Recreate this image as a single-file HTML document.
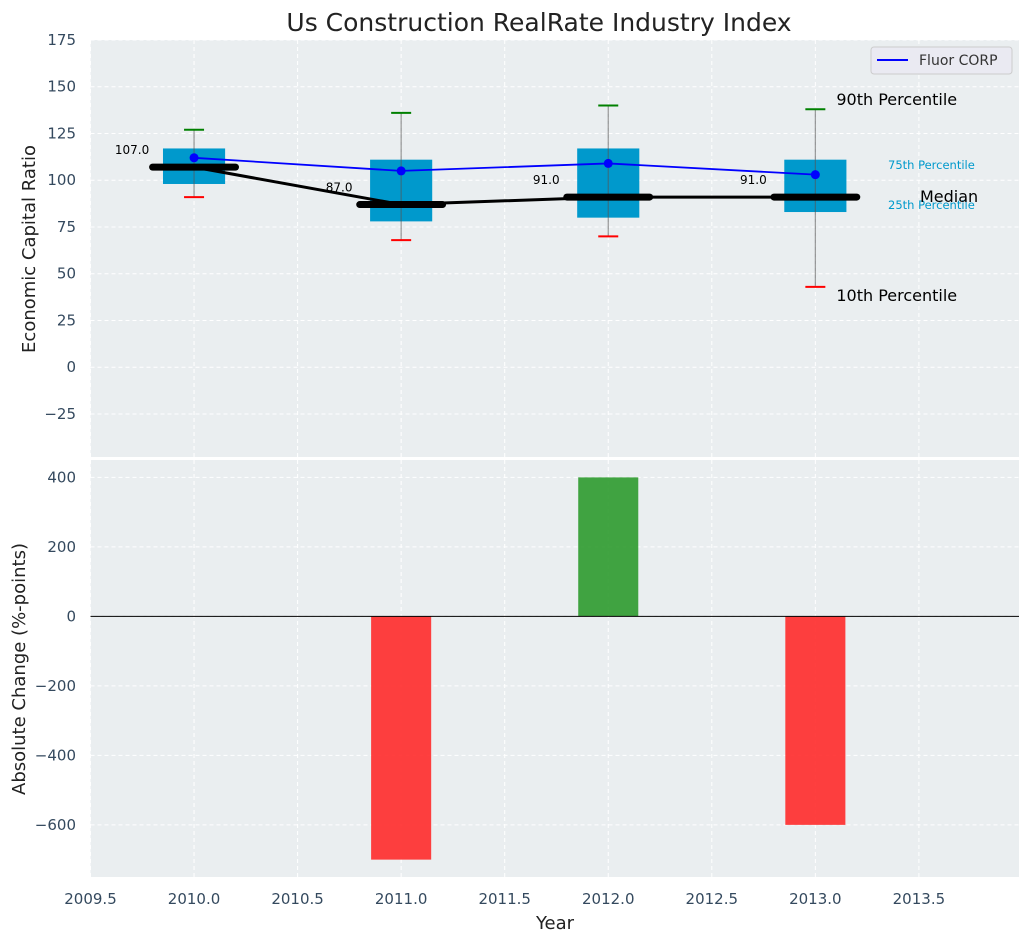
<!DOCTYPE html>
<html><head><meta charset="utf-8"><style>
body{margin:0;background:#fff;}
svg text{font-family:"DejaVu Sans","Liberation Sans",sans-serif;}
</style></head><body>
<svg id="c" width="1029" height="942" xmlns="http://www.w3.org/2000/svg"></svg>
<script>
const years=[2010,2011,2012,2013];
const p10=[91,68,70,43];
const q1=[98,78,80,83];
const medians=[107,87,91,91];
const q3=[117,111,117,111];
const p90=[127,136,140,138];
const fluor=[112,105,109,103];
const changeYears=[2011,2012,2013];
const changes=[-700,400,-600];
const xTicks=[2009.5,2010,2010.5,2011,2011.5,2012,2012.5,2013,2013.5];
const yTopTicks=[-25,0,25,50,75,100,125,150,175];
const yBotTicks=[-600,-400,-200,0,200,400];

const NS="http://www.w3.org/2000/svg";
const svg=document.getElementById('c');
const L=90.5,R=1019;
const X=v=>L+(v-2009.5)*207.1;
const T0=40,T1=457,B0=460,B1=877;
const YT=v=>T0+(175-v)*(T1-T0)/(175+48);
const YB=v=>B0+(450-v)*(B1-B0)/1200;
function el(tag,attrs,name,parent){const e=document.createElementNS(NS,tag);for(const k in attrs)e.setAttribute(k,attrs[k]);


(parent||svg).appendChild(e);return e;}
function txt(s,attrs,name){const e=el('text',attrs,name);e.textContent=s;return e;}

el('rect',{x:L,y:T0,width:R-L,height:T1-T0,fill:'#eaeef0'},'top-plot-area');
el('rect',{x:L,y:B0,width:R-L,height:B1-B0,fill:'#eaeef0'},'bottom-plot-area');
xTicks.forEach(t=>{
 el('line',{x1:X(t),x2:X(t),y1:T0,y2:T1,stroke:'#fff','stroke-dasharray':'4,3','stroke-width':1},'top-x-grid');
 el('line',{x1:X(t),x2:X(t),y1:B0,y2:B1,stroke:'#fff','stroke-dasharray':'4,3','stroke-width':1},'bottom-x-grid');
 txt(t.toFixed(1),{x:X(t),y:B1+27,'text-anchor':'middle','font-size':15,fill:'#34495e'},'x-tick-label');
});
yTopTicks.forEach(t=>{
 el('line',{x1:L,x2:R,y1:YT(t),y2:YT(t),stroke:'#fff','stroke-dasharray':'4,3','stroke-width':1},'top-y-grid');
 txt(t<0?'\u2212'+(-t):String(t),{x:76,y:YT(t)+5,'text-anchor':'end','font-size':15,fill:'#34495e'},'top-y-tick-label');
});
yBotTicks.forEach(t=>{
 el('line',{x1:L,x2:R,y1:YB(t),y2:YB(t),stroke:'#fff','stroke-dasharray':'4,3','stroke-width':1},'bottom-y-grid');
 txt(t<0?'\u2212'+(-t):String(t),{x:76,y:YB(t)+5,'text-anchor':'end','font-size':15,fill:'#34495e'},'bottom-y-tick-label');
});

years.forEach((y,i)=>{
 const x=X(y),hw=(X(0.15)-X(0));
 el('rect',{x:x-hw,y:YT(q3[i]),width:2*hw,height:YT(q1[i])-YT(q3[i]),fill:'#0099cc'},'iqr-box');
 el('line',{x1:x,x2:x,y1:YT(p90[i]),y2:YT(p10[i]),stroke:'#555','stroke-opacity':0.6,'stroke-width':1.2},'whisker');
 el('line',{x1:x-10,x2:x+10,y1:YT(p90[i]),y2:YT(p90[i]),stroke:'green','stroke-width':2},'p90-cap');
 el('line',{x1:x-10,x2:x+10,y1:YT(p10[i]),y2:YT(p10[i]),stroke:'red','stroke-width':2},'p10-cap');
});
el('polyline',{points:years.map((y,i)=>X(y)+','+YT(medians[i])).join(' '),fill:'none',stroke:'#000','stroke-width':3},'median-trend-line');
years.forEach((y,i)=>{
 const hw=X(0.2)-X(0);
 el('line',{x1:X(y)-hw,x2:X(y)+hw,y1:YT(medians[i]),y2:YT(medians[i]),stroke:'#000','stroke-width':7,'stroke-linecap':'round'},'median-bar');
 txt(medians[i].toFixed(1),{x:X(y)-62,y:YT(medians[i])-13,'text-anchor':'middle','font-size':12,fill:'#000'},'median-value-label');
});
el('polyline',{points:years.map((y,i)=>X(y)+','+YT(fluor[i])).join(' '),fill:'none',stroke:'blue','stroke-width':1.8},'fluor-line');
years.forEach((y,i)=>el('circle',{cx:X(y),cy:YT(fluor[i]),r:4.5,fill:'blue'},'fluor-point'));

const lx=X(2013)+21;
txt('90th Percentile',{x:lx,y:YT(p90[3])-4,'font-size':16,fill:'#000'},'p90-annotation');
txt('10th Percentile',{x:lx,y:YT(p10[3])+14,'font-size':16,fill:'#000'},'p10-annotation');
txt('75th Percentile',{x:888,y:169,'font-size':11.5,fill:'#0099cc'},'p75-annotation');
txt('25th Percentile',{x:888,y:209,'font-size':11.5,fill:'#0099cc'},'p25-annotation');
txt('Median',{x:920,y:202,'font-size':16,fill:'#000'},'median-annotation');

el('rect',{x:871,y:47,width:141,height:27,rx:3,fill:'#eaeaf2',stroke:'#ccc'},'legend-box');
el('line',{x1:877,x2:908,y1:60,y2:60,stroke:'blue','stroke-width':2},'legend-line');
txt('Fluor CORP',{x:919,y:65,'font-size':14,fill:'#333'},'legend-label');

changeYears.forEach((y,i)=>{
 const v=changes[i],hw=X(0.145)-X(0);
 const y0=YB(Math.max(0,v)),y1=YB(Math.min(0,v));
 el('rect',{x:X(y)-hw,y:y0,width:2*hw,height:y1-y0,fill:v>=0?'#2e9a2e':'#ff2a2a','fill-opacity':0.9},'change-bar');
});
el('line',{x1:L,x2:R,y1:YB(0),y2:YB(0),stroke:'#000','stroke-width':1},'zero-line');

txt('Us Construction RealRate Industry Index',{x:539,y:31,'text-anchor':'middle','font-size':25,fill:'#222'},'chart-title');
txt('Year',{x:555,y:929,'text-anchor':'middle','font-size':18,fill:'#222'},'x-axis-title');
txt('Economic Capital Ratio',{x:0,y:0,'text-anchor':'middle','font-size':18,fill:'#222',transform:'translate(35,249) rotate(-90)'},'top-y-axis-title');
txt('Absolute Change (%-points)',{x:0,y:0,'text-anchor':'middle','font-size':18,fill:'#222',transform:'translate(25,669) rotate(-90)'},'bottom-y-axis-title');
</script>
</body></html>
